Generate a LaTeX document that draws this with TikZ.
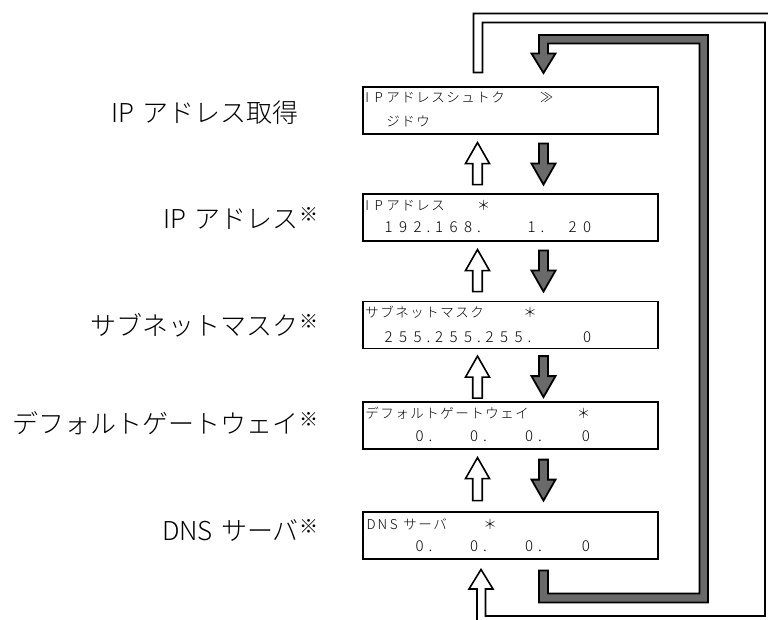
\documentclass[tikz,border=0pt]{standalone}
\usepackage{fontspec}
\IfFontExistsTF{Noto Sans CJK JP Light}
  {\setmainfont{Noto Sans CJK JP Light}}
  {\setmainfont{Noto Sans CJK JP}}
\usetikzlibrary{calc}
\definecolor{pipegray}{HTML}{6A6A6A}
\newcommand\cellsw{15pt}
\newcommand\cells[2]{\renewcommand\cellsw{#1}\cellsloop#2\relax}
\def\cellsloop#1{\ifx\relax#1\else\makebox[\cellsw][c]{#1}\expandafter\cellsloop\fi}
\newcommand\digs[1]{\digsloop#1\relax}
\def\digsloop#1{\ifx\relax#1\else\ifx.#1\makebox[7pt][c]{.}\else\makebox[14.5pt][c]{#1}\fi\expandafter\digsloop\fi}
\newcommand\kome{\rlap{\hspace{0.5pt}\raisebox{7pt}{\fontsize{19}{19}\selectfont ※}}}
\begin{document}
\begin{tikzpicture}[x=1pt,y=-1pt,
  lbl/.style={anchor=base east, inner sep=0pt, font=\fontsize{26}{26}\selectfont},
  lcd/.style={anchor=base west, inner sep=0pt, font=\fontsize{13.5}{13.5}\selectfont},
  lcdd/.style={anchor=base west, inner sep=0pt, font=\fontsize{15}{15}\selectfont},
  lcdbox/.style={draw, line width=1.2pt, minimum width=295pt, minimum height=47pt, inner sep=0pt},
  whitepipe/.style={draw, line width=1.6pt, fill=white, line join=miter},
  graypipe/.style={draw, line width=1.8pt, fill=pipegray, line join=miter},
  pics/uparr/.style={code={
    \draw[whitepipe] (0,0) -- (12,21) -- (4.75,21) -- (4.75,#1) -- (-4.75,#1) -- (-4.75,21) -- (-12,21) -- cycle;}},
  pics/downarr/.style={code={
    \draw[graypipe] (-4.5,0) -- (4.5,0) -- (4.5,#1-21) -- (12,#1-21) -- (0,#1) -- (-12,#1-21) -- (-4.5,#1-21) -- cycle;}},
]
\useasboundingbox (0,0) rectangle (768,620);
\fill[white] (0,0) rectangle (768,620);
\clip (0,0) rectangle (768,620);

% boxes
\node[lcdbox] (b1) at (510.5,110.5) {};
\node[lcdbox] (b2) at (510.5,217.5) {};
\node[lcdbox] (b3) at (510.5,325) {};
\node[lcdbox] (b4) at (510.5,425.5) {};
\node[lcdbox] (b5) at (510.5,535.5) {};

% box texts
\node[lcd] (t1a) at (361.25,103) {\cells{11.5pt}{IP}};
\node[lcd] (t1b) at (385.5,103) {\cells{15pt}{アドレスシュトク}};
\node[lcd] (t1c) at (539,103) {\cells{15pt}{≫}};
\node[lcd] (t1d) at (385.5,126.5) {\cells{15pt}{ジドウ}};

\node[lcd] (t2a) at (361.25,210.5) {\cells{11.5pt}{IP}};
\node[lcd] (t2b) at (385.5,210.5) {\cells{15pt}{アドレス}};
\node[lcd] (t2c) at (476,210.5) {\cells{15pt}{＊}};
\node[lcdd] (t2d) at (381.25,233) {\digs{192.168.}};
\node[lcdd] (t2e) at (524.25,233) {\digs{1.}};
\node[lcdd] (t2f) at (565.25,233) {\digs{20}};

\node[lcd] (t3a) at (364.5,317.5) {\cells{15pt}{サブネットマスク}};
\node[lcd] (t3b) at (522.5,317.5) {\cells{15pt}{＊}};
\node[lcdd] (t3c) at (381.25,342) {\digs{255.255.255.}};
\node[lcdd] (t3d) at (579.75,342) {\digs{0}};

\node[lcd] (t4a) at (364.5,418.5) {\cells{15pt}{デフォルトゲートウェイ}};
\node[lcd] (t4b) at (576,418.5) {\cells{15pt}{＊}};
\node[lcdd] (t4c) at (412.25,441.5) {\digs{0.}};
\node[lcdd] (t4d) at (466.75,441.5) {\digs{0.}};
\node[lcdd] (t4e) at (521.75,441.5) {\digs{0.}};
\node[lcdd] (t4f) at (578.5,441.5) {\digs{0}};

\node[lcd] (t5a) at (365.35,529.5) {\cells{11.3pt}{DNS}};
\node[lcd] (t5b) at (402.5,529.5) {\cells{15pt}{サーバ}};
\node[lcd] (t5c) at (482.5,529.5) {\cells{15pt}{＊}};
\node[lcdd] (t5d) at (412.25,551) {\digs{0.}};
\node[lcdd] (t5e) at (466.75,551) {\digs{0.}};
\node[lcdd] (t5f) at (521.75,551) {\digs{0.}};
\node[lcdd] (t5g) at (578.5,551) {\digs{0}};

% labels
\node[lbl] (l1) at (299,122.5) {IP\hspace{8pt}アドレス取得};
\node[lbl] (l2) at (299,229) {IP\hspace{8pt}アドレス\kome};
\node[lbl] (l3) at (299,335) {サブネットマスク\kome};
\node[lbl] (l4) at (299,433.5) {デフォルトゲートウェイ\kome};
\node[lbl] (l5) at (299,540) {DNS\hspace{8pt}サーバ\kome};

% small arrows
\coordinate (ux) at (477.5,0);
\coordinate (dx) at (543.5,0);
\pic at ($(b1.south -| ux)+(0,8)$) {uparr=42};
\pic at ($(b2.south -| ux)+(0,8)$) {uparr=42};
\pic at ($(b3.south -| ux)+(0,7)$) {uparr=42};
\pic at ($(b4.south -| ux)+(0,8)$) {uparr=43};
\pic at ($(b1.south -| dx)+(0,9)$) {downarr=41};
\pic at ($(b2.south -| dx)+(0,9)$) {downarr=41};
\pic at ($(b3.south -| dx)+(0,7)$) {downarr=41};
\pic at ($(b4.south -| dx)+(0,10)$) {downarr=41};

% white loop pipe
\draw[whitepipe] (473.5,72.5) -- (473.5,13.5) -- (774,13.5) -- (774,625) -- (477,625)
  -- (477,589) -- (469,589) -- (481,569.5) -- (493,589) -- (485.5,589)
  -- (485.5,616) -- (765,616) -- (765,22.5) -- (482.5,22.5) -- (482.5,72.5) -- cycle;

% gray loop pipe
\draw[graypipe] (539,570.5) -- (539,602.5) -- (708,602.5) -- (708,35) -- (539,35)
  -- (539,53.5) -- (531.5,53.5) -- (543.5,73) -- (555.5,53.5) -- (548,53.5)
  -- (548,43.5) -- (699.5,43.5) -- (699.5,593.5) -- (548,593.5) -- (548,570.5) -- cycle;
\end{tikzpicture}
\end{document}
